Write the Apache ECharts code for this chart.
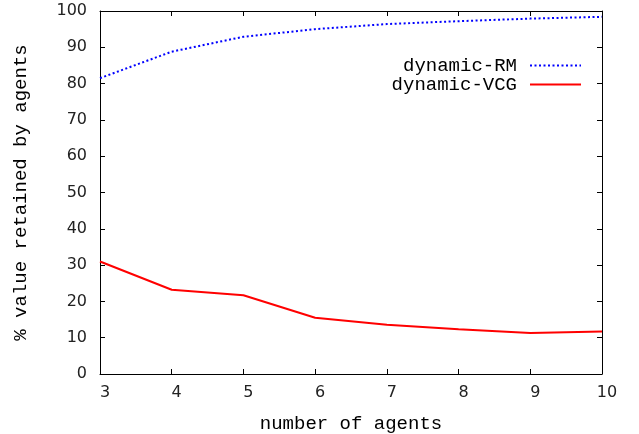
<!DOCTYPE html>
<html>
<head>
<meta charset="utf-8">
<script src="https://cdn.jsdelivr.net/npm/echarts@6/dist/echarts.min.js"></script>
<style>
    html, body { margin: 0; padding: 0; background: #fff; }
    #chart { width: 639px; height: 434px; }
</style>
</head>
<body>
<div id="chart"></div>
<script>
// data
var agents = [3, 4, 5, 6, 7, 8, 9, 10];
var dynamicRM = [81.5, 88.8, 92.9, 95.0, 96.4, 97.2, 97.9, 98.4];
var dynamicVCG = [31.0, 23.2, 21.7, 15.5, 13.6, 12.3, 11.3, 11.7];

var monoFont = '"Liberation Mono", "DejaVu Sans Mono", monospace';
var tickFont = '"DejaVu Sans", sans-serif';

function pairs(xs, ys) {
    return xs.map(function (x, i) { return [x, ys[i]]; });
}

var chart = echarts.init(document.getElementById('chart'));

// plain box axis, ticks pointing inside, no grid lines
function boxAxis(extra) {
    var base = {
        axisLine: { show: true, onZero: false, lineStyle: { color: '#000', width: 1 } },
        axisTick: { show: true, inside: true, length: 5, lineStyle: { color: '#000' } },
        splitLine: { show: false }
    };
    return Object.assign(base, extra);
}

function legendRow(name, top) {
    return {
        data: [name],
        right: 52, top: top,
        orient: 'vertical',
        align: 'right',
        itemWidth: 51, itemHeight: 10,
        itemStyle: { opacity: 0 },
        textStyle: { fontFamily: monoFont, fontSize: 19, color: '#000', padding: [0, 8, 0, 0] }
    };
}

var option = {
    backgroundColor: '#fff',
    animation: false,
    grid: { left: 100, right: 37, top: 11, bottom: 60, outerBoundsMode: 'none' },
    legend: [
        legendRow('dynamic-RM', 51),
        legendRow('dynamic-VCG', 70)
    ],
    xAxis: [
        boxAxis({
            type: 'value', min: 3, max: 10, interval: 1,
            position: 'bottom',
            name: 'number of agents',
            nameLocation: 'middle',
            nameGap: 40,
            nameTextStyle: { fontFamily: monoFont, fontSize: 19, color: '#000' },
            axisLabel: { fontFamily: tickFont, fontSize: 16, color: '#222', margin: 11, padding: [0, 0, 0, 10] }
        }),
        boxAxis({
            type: 'value', min: 3, max: 10, interval: 1,
            position: 'top',
            axisLabel: { show: false }
        })
    ],
    yAxis: [
        boxAxis({
            type: 'value', min: 0, max: 100, interval: 10,
            position: 'left',
            name: '% value retained by agents',
            nameLocation: 'middle',
            nameGap: 70,
            nameTextStyle: { fontFamily: monoFont, fontSize: 19, color: '#000' },
            axisLabel: { fontFamily: tickFont, fontSize: 16, color: '#222', margin: 13 }
        }),
        boxAxis({
            type: 'value', min: 0, max: 100, interval: 10,
            position: 'right',
            axisLabel: { show: false }
        })
    ],
    series: [
        {
            name: 'dynamic-RM',
            type: 'line',
            data: pairs(agents, dynamicRM),
            symbol: 'none',
            lineStyle: { color: '#0000ff', width: 2, type: [2, 2.5] },
            itemStyle: { color: '#0000ff' }
        },
        {
            name: 'dynamic-VCG',
            type: 'line',
            data: pairs(agents, dynamicVCG),
            symbol: 'none',
            lineStyle: { color: '#ff0000', width: 2 },
            itemStyle: { color: '#ff0000' }
        }
    ]
};

chart.setOption(option);
window.addEventListener('resize', function () {
    chart.resize();
});
</script>
</body>
</html>
